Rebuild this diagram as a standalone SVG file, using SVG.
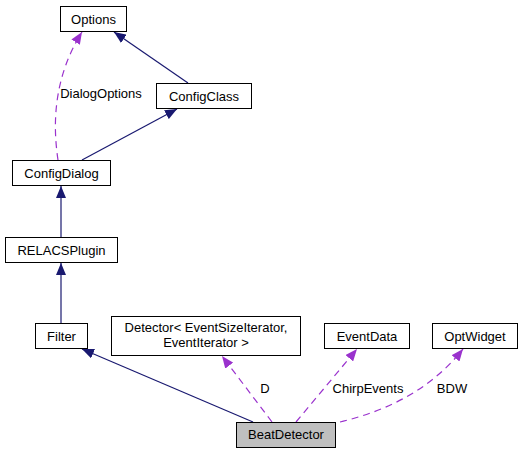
<svg xmlns="http://www.w3.org/2000/svg" width="521" height="453" viewBox="0 0 521 453">
<style>
.box{fill:#fff;stroke:#000;stroke-width:1}
.t{font-family:"Liberation Sans",Arial,sans-serif;font-size:13px;fill:#000;text-anchor:middle}
.inh{fill:none;stroke:#191970;stroke-width:1.2}
.use{fill:none;stroke:#9a32cd;stroke-width:1.2;stroke-dasharray:7,5}
</style>
<defs>
<marker id="ah" viewBox="0 0 12 10" refX="12" refY="5" markerWidth="12" markerHeight="10" markerUnits="userSpaceOnUse" orient="auto">
<path d="M0,0 L12,5 L0,10 Z" fill="#191970"/>
</marker>
<marker id="ap" viewBox="0 0 12 10" refX="12" refY="5" markerWidth="12" markerHeight="10" markerUnits="userSpaceOnUse" orient="auto">
<path d="M0,0 L12,5 L0,10 Z" fill="#9a32cd"/>
</marker>
</defs>
<rect width="521" height="453" fill="#fff"/>
<g id="connectors">
<path class="inh" d="M188,83 L114,32" marker-end="url(#ah)"/>
<path class="inh" d="M82,160 L177,109" marker-end="url(#ah)"/>
<path class="use" d="M58,160 C52,120 55,75 82,32" marker-end="url(#ap)"/>
<path class="inh" d="M61,237 L61,186" marker-end="url(#ah)"/>
<path class="inh" d="M61,323 L61,263" marker-end="url(#ah)"/>
<path class="inh" d="M253,422 L82,349" marker-end="url(#ah)"/>
<path class="use" d="M272,422 L222,356" marker-end="url(#ap)"/>
<path class="use" d="M296,422 L357,349" marker-end="url(#ap)"/>
<path class="use" d="M340,422 C390,410 432,388 463,349" marker-end="url(#ap)"/>
<text class="t" x="101" y="98">DialogOptions</text>
<text class="t" x="265" y="393">D</text>
<text class="t" x="368" y="393">ChirpEvents</text>
<text class="t" x="452" y="393">BDW</text>
</g>
<g id="Options"><rect class="box" x="60.5" y="6.5" width="66" height="25"/><text class="t" x="93.5" y="23.5">Options</text></g>
<g id="ConfigClass"><rect class="box" x="156.5" y="83.5" width="95" height="25"/><text class="t" x="204" y="100.5">ConfigClass</text></g>
<g id="ConfigDialog"><rect class="box" x="12.5" y="160.5" width="98" height="25"/><text class="t" x="61.5" y="177.5">ConfigDialog</text></g>
<g id="RELACSPlugin"><rect class="box" x="5.5" y="237.5" width="112" height="25"/><text class="t" x="61.5" y="254.5">RELACSPlugin</text></g>
<g id="Filter"><rect class="box" x="35.5" y="323.5" width="52" height="25"/><text class="t" x="61.5" y="340.5">Filter</text></g>
<g id="Detector"><rect class="box" x="111.5" y="316.5" width="189" height="39"/><text class="t" x="206" y="332">Detector&lt; EventSizeIterator,</text><text class="t" x="206" y="347">EventIterator &gt;</text></g>
<g id="EventData"><rect class="box" x="324.5" y="323.5" width="85" height="25"/><text class="t" x="367" y="340.5">EventData</text></g>
<g id="OptWidget"><rect class="box" x="432.5" y="323.5" width="85" height="25"/><text class="t" x="475" y="340.5">OptWidget</text></g>
<g id="BeatDetector"><rect class="box" x="236.5" y="422.5" width="99" height="25" style="fill:#bfbfbf"/><text class="t" x="286" y="439">BeatDetector</text></g>
</svg>
